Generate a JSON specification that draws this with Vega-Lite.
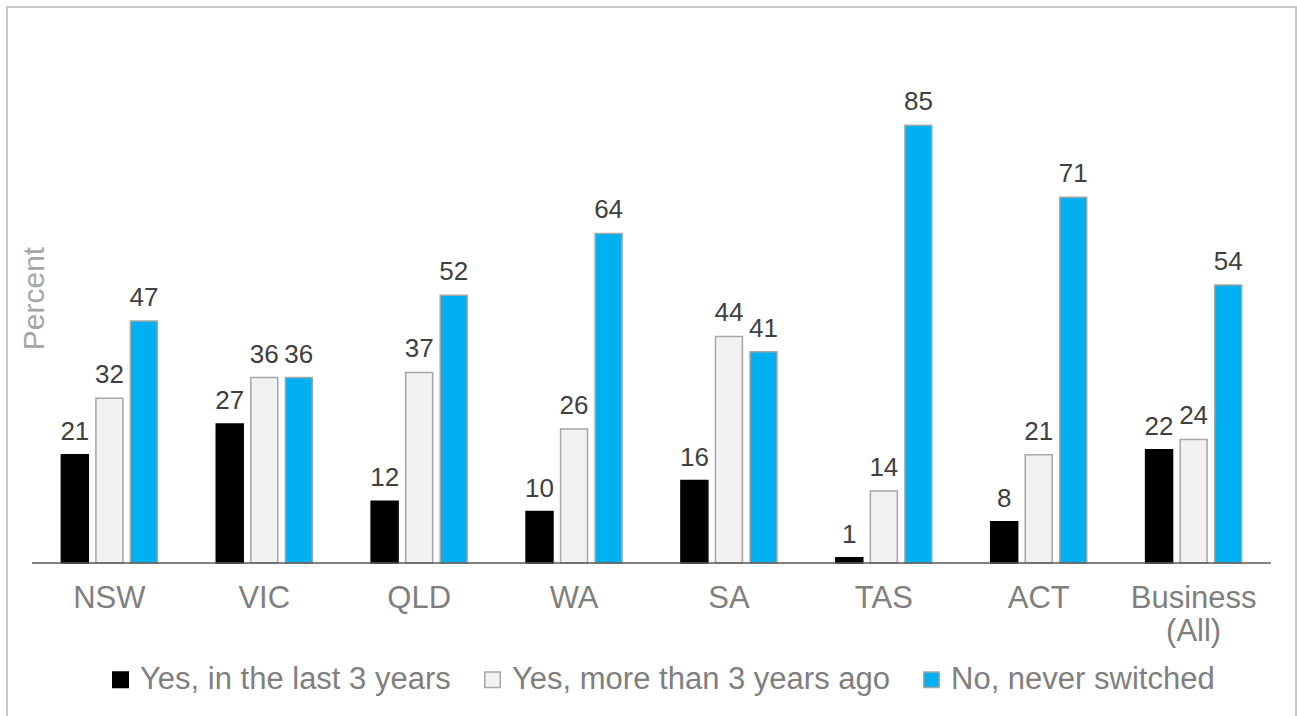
{
  "$schema": "https://vega.github.io/schema/vega-lite/v6.json",
  "autosize": {"type": "none"},
  "width": 1289,
  "height": 720,
  "padding": {"left": 7, "top": 7, "right": 1, "bottom": 0},
  "background": "#ffffff",
  "config": {
    "font": "Liberation Sans",
    "view": {"stroke": "#c8c8c8", "strokeWidth": 2}
  },
  "data": {
    "values": [
      {"region": "NSW", "answer": "Yes, in the last 3 years", "pct": 21},
      {"region": "NSW", "answer": "Yes, more than 3 years ago", "pct": 32},
      {"region": "NSW", "answer": "No, never switched", "pct": 47},
      {"region": "VIC", "answer": "Yes, in the last 3 years", "pct": 27},
      {"region": "VIC", "answer": "Yes, more than 3 years ago", "pct": 36},
      {"region": "VIC", "answer": "No, never switched", "pct": 36},
      {"region": "QLD", "answer": "Yes, in the last 3 years", "pct": 12},
      {"region": "QLD", "answer": "Yes, more than 3 years ago", "pct": 37},
      {"region": "QLD", "answer": "No, never switched", "pct": 52},
      {"region": "WA", "answer": "Yes, in the last 3 years", "pct": 10},
      {"region": "WA", "answer": "Yes, more than 3 years ago", "pct": 26},
      {"region": "WA", "answer": "No, never switched", "pct": 64},
      {"region": "SA", "answer": "Yes, in the last 3 years", "pct": 16},
      {"region": "SA", "answer": "Yes, more than 3 years ago", "pct": 44},
      {"region": "SA", "answer": "No, never switched", "pct": 41},
      {"region": "TAS", "answer": "Yes, in the last 3 years", "pct": 1},
      {"region": "TAS", "answer": "Yes, more than 3 years ago", "pct": 14},
      {"region": "TAS", "answer": "No, never switched", "pct": 85},
      {"region": "ACT", "answer": "Yes, in the last 3 years", "pct": 8},
      {"region": "ACT", "answer": "Yes, more than 3 years ago", "pct": 21},
      {"region": "ACT", "answer": "No, never switched", "pct": 71},
      {"region": "Business (All)", "answer": "Yes, in the last 3 years", "pct": 22},
      {"region": "Business (All)", "answer": "Yes, more than 3 years ago", "pct": 24},
      {"region": "Business (All)", "answer": "No, never switched", "pct": 54}
    ]
  },
  "encoding": {
    "x": {
      "field": "region",
      "type": "nominal",
      "scale": {
        "domain": ["NSW", "VIC", "QLD", "WA", "SA", "TAS", "ACT", "Business (All)"],
        "paddingInner": 0.38,
        "paddingOuter": 0.351
      },
      "axis": {
        "title": null,
        "orient": "bottom",
        "offset": -164,
        "domain": false,
        "ticks": false,
        "labelAngle": 0,
        "labelFontSize": 31,
        "labelColor": "#7f7f7f",
        "labelPadding": 20,
        "labelLineHeight": 33,
        "labelExpr": "datum.label == 'Business (All)' ? ['Business', '(All)'] : datum.label"
      }
    },
    "xOffset": {
      "field": "answer",
      "type": "nominal",
      "scale": {
        "domain": ["Yes, in the last 3 years", "Yes, more than 3 years ago", "No, never switched"],
        "paddingInner": 0.22,
        "paddingOuter": 0
      }
    },
    "y": {
      "field": "pct",
      "type": "quantitative",
      "scale": {"domain": [-31.84, 107.96], "nice": false, "zero": false},
      "axis": {
        "title": "Percent",
        "titleColor": "#a6a6a6",
        "titleFontSize": 30,
        "titleFontWeight": "normal",
        "titlePadding": 0,
        "titleY": 291,
        "offset": -42,
        "labels": false,
        "ticks": false,
        "domain": false,
        "grid": false
      }
    }
  },
  "layer": [
    {
      "mark": {"type": "bar", "strokeWidth": 1.5},
      "encoding": {
        "y2": {"datum": 0},
        "color": {
          "field": "answer",
          "type": "nominal",
          "scale": {
            "domain": ["Yes, in the last 3 years", "Yes, more than 3 years ago", "No, never switched"],
            "range": ["#000000", "#f2f2f2", "#00b0f0"]
          },
          "legend": {
            "title": null,
            "orient": "none",
            "legendX": 98,
            "legendY": 657,
            "direction": "horizontal",
            "symbolType": "square",
            "symbolSize": 240,
            "symbolStrokeWidth": 1.5,
            "labelFontSize": 31,
            "labelColor": "#7f7f7f",
            "labelOffset": 4,
            "columnPadding": 26,
            "labelLimit": 0
          }
        },
        "stroke": {
          "field": "answer",
          "type": "nominal",
          "scale": {
            "domain": ["Yes, in the last 3 years", "Yes, more than 3 years ago", "No, never switched"],
            "range": ["#000000", "#a6a6a6", "#a6a6a6"]
          },
          "legend": null
        }
      }
    },
    {
      "mark": {"type": "text", "baseline": "alphabetic", "dy": -15, "fontSize": 26, "color": "#404040"},
      "encoding": {
        "text": {"field": "pct", "type": "quantitative"}
      }
    },
    {
      "data": {"values": [{"level": 0}]},
      "mark": {"type": "rule", "color": "#595959", "strokeWidth": 1.5},
      "encoding": {
        "x": {"datum": "NSW", "type": "nominal", "bandPosition": -0.306},
        "x2": {"datum": "Business (All)", "bandPosition": 1.305},
        "y": {"field": "level", "type": "quantitative"},
        "xOffset": null
      }
    }
  ]
}
